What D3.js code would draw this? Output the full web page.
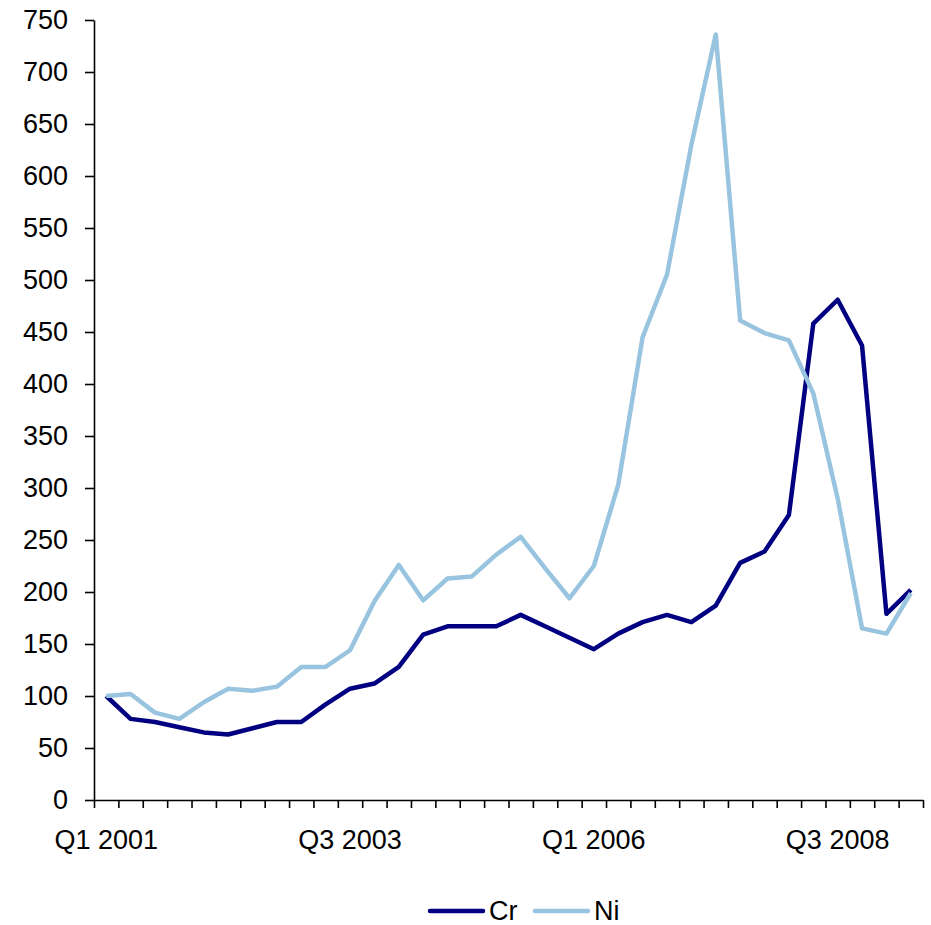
<!DOCTYPE html>
<html>
<head>
<meta charset="utf-8">
<script src="https://cdn.jsdelivr.net/npm/d3@7"></script>
<style>
  body { margin: 0; background: #fff; }
  svg text { font-family: "Liberation Sans", Arial, sans-serif; fill: #000; }
</style>
</head>
<body>
<div id="chart"></div>
<script>
const width = 931, height = 925;
const margin = { top: 20, right: 8, bottom: 125, left: 94 };

const quarters = [
  "Q1 2001","Q2 2001","Q3 2001","Q4 2001",
  "Q1 2002","Q2 2002","Q3 2002","Q4 2002",
  "Q1 2003","Q2 2003","Q3 2003","Q4 2003",
  "Q1 2004","Q2 2004","Q3 2004","Q4 2004",
  "Q1 2005","Q2 2005","Q3 2005","Q4 2005",
  "Q1 2006","Q2 2006","Q3 2006","Q4 2006",
  "Q1 2007","Q2 2007","Q3 2007","Q4 2007",
  "Q1 2008","Q2 2008","Q3 2008","Q4 2008",
  "Q1 2009","Q2 2009"
];
const labelQuarters = ["Q1 2001", "Q3 2003", "Q1 2006", "Q3 2008"];
const crValues = [100, 78, 75, 70, 65, 63, 69, 75, 75, 92, 107, 112, 128, 159, 167, 167, 167, 178,
  167, 156, 145, 160, 171, 178, 171, 187, 228, 239, 274, 458, 481, 437, 179, 202];
const niValues = [100, 102, 84, 78, 94, 107, 105, 109, 128, 128, 144, 191, 226, 192, 213, 215, 236, 253,
  223, 194, 225, 303, 445, 505, 630, 736, 461, 449, 442, 391, 290, 165, 160, 199];
const yTicks = [0, 50, 100, 150, 200, 250, 300, 350, 400, 450, 500, 550, 600, 650, 700, 750];

const series = [
  { name: "Cr", values: crValues, color: "#000080" },
  { name: "Ni", values: niValues, color: "#99c4df" }
];

const svg = d3.select("#chart").append("svg")
  .attr("width", width)
  .attr("height", height);

const innerW = width - margin.left - margin.right;
const innerH = height - margin.top - margin.bottom;

const chart = svg.append("g")
  .attr("transform", `translate(${margin.left},${margin.top})`);

const x = d3.scaleBand().domain(quarters).range([0, innerW]).padding(0);
const xEdge = d3.scaleLinear().domain([0, quarters.length]).range([0, innerW]);
const y = d3.scaleLinear().domain([0, 750]).range([innerH, 0]);

// Y AXIS
const yAxis = chart.append("g")
  .call(d3.axisLeft(y).tickValues(yTicks).tickSize(9).tickSizeOuter(0).tickPadding(17));
yAxis.selectAll("text").style("font-size", "27px");

// X AXIS - tick marks at category edges
chart.append("g")
  .attr("transform", `translate(0,${innerH})`)
  .call(d3.axisBottom(xEdge).tickValues(d3.range(quarters.length + 1)).tickSize(8).tickSizeOuter(0).tickFormat(""));

// X AXIS - labels at category centres
const xLab = chart.append("g")
  .attr("transform", `translate(0,${innerH})`)
  .call(d3.axisBottom(x).tickValues(labelQuarters).tickSize(0).tickPadding(30));
xLab.select(".domain").remove();
xLab.selectAll("text").style("font-size", "27px");

svg.selectAll(".domain, .tick line")
  .attr("stroke", "#000")
  .attr("stroke-width", 1.6);

// LINES
const line = d3.line()
  .x((d, i) => x(quarters[i]) + x.bandwidth() / 2)
  .y(d => y(d));

series.forEach(s => {
  chart.append("path")
    .datum(s.values)
    .attr("fill", "none")
    .attr("stroke", s.color)
    .attr("stroke-width", 4.5)
    .attr("stroke-linejoin", "round")
    .attr("d", line);
});

// LEGEND
const legend = svg.append("g").attr("transform", "translate(430,911)");
const legendX = [0, 105];
series.forEach((s, i) => {
  const g = legend.append("g").attr("transform", `translate(${legendX[i]},0)`);
  g.append("line")
    .attr("x1", 0).attr("x2", 53)
    .attr("stroke", s.color)
    .attr("stroke-width", 4.5)
    .attr("stroke-linecap", "round");
  g.append("text")
    .attr("x", 59)
    .attr("dy", "0.35em")
    .style("font-size", "27px")
    .text(s.name);
});
</script>
</body>
</html>
